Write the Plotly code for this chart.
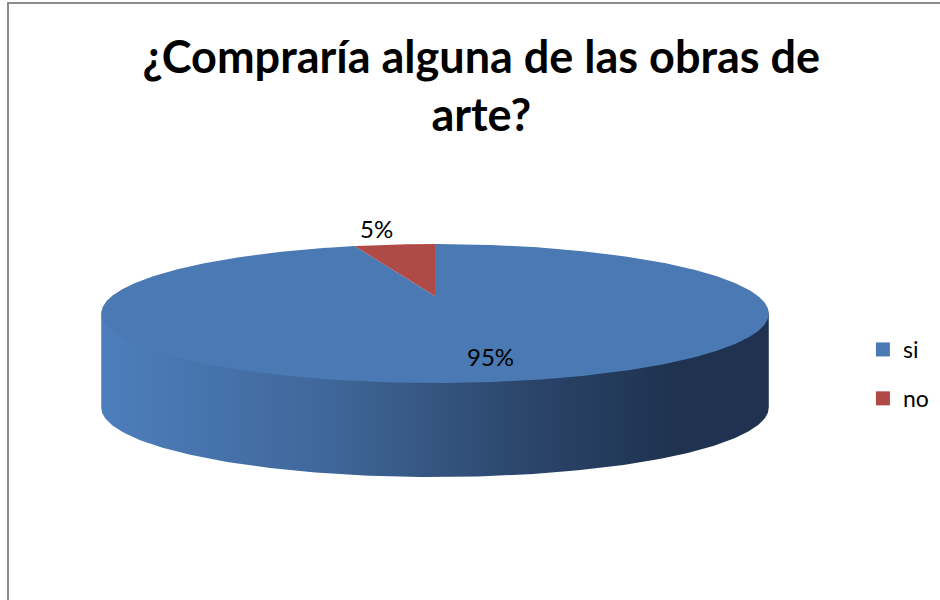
import numpy as np
import plotly.graph_objects as go

# ---- data ----
title_text = "¿Compraría alguna de las obras de<br>arte?"
categories = ["si", "no"]
values = [95, 5]
top_colors = ["#4a79b3", "#b04a47"]
side_colors = [[0, "#4d7ebc"], [0.35, "#3f6698"], [0.65, "#2a4468"], [0.85, "#1f3351"], [1, "#1f3250"]]

# ---- 3D pie projection (pixel space) ----
X0, Y0 = 435, 296      # centre of pie (projected)
A, B, K = 323, 65.1, 0.252  # radii and perspective factor
DEPTH = 94


def proj(theta_deg, r=1.0):
    t = np.radians(theta_deg)
    u = r * np.sin(t)
    v = -r * np.cos(t)
    d = 1 - K * v
    return X0 + A * u / d, Y0 + B * v / d


fig = go.Figure()

# side (visible near half) of the cylinder
v_sil = K
th_r = np.degrees(np.arccos(-v_sil))          # right silhouette angle
th_l = 360 - th_r                              # left silhouette angle
arc = np.linspace(th_l, th_r, 200)
tx, ty = proj(arc)
sx = np.concatenate([tx, tx[::-1]])
sy = np.concatenate([ty - 3, ty[::-1] + DEPTH])
fig.add_trace(go.Scatter(x=sx, y=sy, mode="lines", line=dict(width=0), fill="toself",
                         fillgradient=dict(type="horizontal", colorscale=side_colors),
                         hoverinfo="skip", showlegend=False))

# top faces
total = sum(values)
start = 0.0
mids = []
for cat, val, col in zip(categories, values, top_colors):
    span = 360.0 * val / total
    th = np.linspace(start, start + span, max(4, int(span * 2)))
    ax, ay = proj(th)
    px = np.concatenate([[X0], ax, [X0]])
    py = np.concatenate([[Y0], ay, [Y0]])
    fig.add_trace(go.Scatter(x=px, y=py, mode="lines", line=dict(width=0, color=col),
                             fill="toself", fillcolor=col, hoverinfo="skip", showlegend=False))
    mids.append(start + span / 2)
    start += span

# legend entries
for i, (cat, col) in enumerate(zip(categories, top_colors)):
    fig.add_trace(go.Scatter(x=[None], y=[None], mode="markers", name=cat,
                             legendgroup=cat,
                             marker=dict(symbol="square", size=14, color=col)))

# percentage labels
label_r = [0.76, 1.43]
for val, mid, r in zip(values, mids, label_r):
    lx, ly = proj(mid, r)
    fig.add_annotation(x=lx, y=ly, text=f"{round(100 * val / total)}%", showarrow=False,
                       xshift=(8 if val > 50 else -5),
                       font=dict(family="Lato", size=24, color="#000000"))

# chart border
fig.add_shape(type="rect", x0=8, y0=3, x1=960, y1=620, line=dict(color="#8c8c8c", width=2),
              layer="above")

fig.update_layout(
    width=940, height=600, autosize=False,
    margin=dict(l=0, r=0, t=0, b=0),
    paper_bgcolor="white", plot_bgcolor="white",
    title=dict(text=title_text, x=0.512, xanchor="center", y=0.879, yanchor="top",
               yref="container",
               font=dict(family="Lato", size=45, color="#000000", weight="bold")),
    xaxis=dict(range=[0, 940], visible=False, fixedrange=True),
    yaxis=dict(range=[600, 0], visible=False, fixedrange=True),
    legend=dict(x=0.918, xanchor="left", y=1 - 328 / 600, yanchor="top",
                font=dict(family="Lato", size=23, color="#000000"),
                tracegroupgap=16, bgcolor="rgba(0,0,0,0)"),
    showlegend=True,
)

fig.write_html("out.html", config={"displayModeBar": False},
               post_script="document.body.style.margin='0px';")
